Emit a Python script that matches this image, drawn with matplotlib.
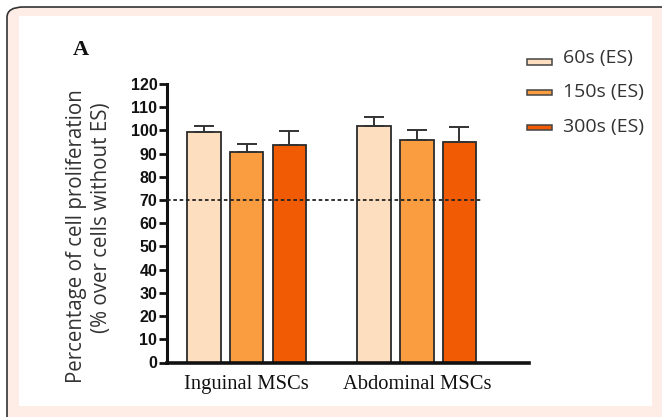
import numpy as np
import matplotlib.pyplot as plt
from matplotlib.patches import FancyBboxPatch, Rectangle

# data
groups = ["Inguinal MSCs", "Abdominal MSCs"]
series = ["60s (ES)", "150s (ES)", "300s (ES)"]
means = [
    [99.2, 101.7],   # 60s
    [90.8, 95.7],    # 150s
    [93.6, 95.0],    # 300s
]
errors = [
    [2.8, 4.1],
    [3.5, 4.3],
    [6.0, 6.3],
]
colors = ["#FDDFC0", "#F99D40", "#F15B04"]
threshold = 70
yticks = list(range(0, 121, 10))

fig = plt.figure(figsize=(6.62, 4.17), dpi=100)
fig.patch.set_facecolor("white")

# pink card with dark rounded border, white panel inside
W, H = 662, 417
card = FancyBboxPatch((7 / W, -0.05), 1.1, 1 - 7 / H + 0.05,
                      boxstyle="round,pad=0,rounding_size=0.025",
                      transform=fig.transFigure, facecolor="#FDEDE6",
                      edgecolor="#333333", linewidth=1.2, zorder=-3)
fig.patches.append(card)
fig.patches.append(Rectangle((19 / W, 1 - 406 / H), (652 - 19) / W, (406 - 16) / H,
                             transform=fig.transFigure, facecolor="white",
                             edgecolor="none", zorder=-2))

ax = fig.add_axes([167 / W, 1 - 362.5 / H, (529 - 167) / W, (362.5 - 84) / H])
ax.set_facecolor("none")

x = np.arange(len(groups))
pitch = 0.251
width = 0.197
for i, (m, e, c) in enumerate(zip(means, errors, colors)):
    pos = x + (i - 1) * pitch
    ax.bar(pos, m, width=width, color=c, edgecolor="#2b2b2b", linewidth=1.3,
           label=series[i], zorder=2)
    ax.errorbar(pos, m, yerr=[np.zeros(len(e)), e], fmt="none", ecolor="#333333",
                elinewidth=1.4, capsize=7.5, capthick=1.4, zorder=3)

ax.plot([-0.469, 1.39], [threshold, threshold], color="#222222", linestyle=(0, (2, 1.5)),
        linewidth=1.3, zorder=4, clip_on=False)

ax.set_xlim(-0.469, 1.66)
ax.set_ylim(0, 120)
ax.set_yticks(yticks)
ax.set_yticklabels([str(t) for t in yticks], fontfamily="Liberation Sans",
                   fontweight="bold", fontsize=11.5, color="#111111")
ax.set_xticks(x)
ax.set_xticklabels(groups, fontfamily="Liberation Serif", fontsize=14.8, color="#111111")
ax.tick_params(axis="x", length=0, pad=9)
ax.tick_params(axis="y", length=6, width=2, color="#111111", pad=1)
for s in ["top", "right"]:
    ax.spines[s].set_visible(False)
ax.spines["left"].set_linewidth(2.2)
ax.spines["bottom"].set_linewidth(2.6)
ax.spines["left"].set_color("#111111")
ax.spines["bottom"].set_color("#111111")

fig.text(77 / W, 1 - 236.5 / H, "Percentage of cell proliferation", rotation=90,
         ha="center", va="center", fontfamily="Open Sans", fontsize=14.8, color="#333333")
fig.text(101 / W, 1 - 218 / H, "(% over cells without ES)", rotation=90,
         ha="center", va="center", fontfamily="Open Sans", fontsize=14.8, color="#333333")

fig.text(73 / W, 1 - 55 / H, "A", fontfamily="Liberation Serif", fontweight="bold",
         fontsize=16, color="#111111")

# legend
patch_y = [61.8, 92.5, 127.5]
text_y = [57.5, 91.7, 127]
for lbl, c, py, ty in zip(series, colors, patch_y, text_y):
    fig.patches.append(Rectangle((527 / W, 1 - (py + 2.8) / H), 25 / W, 5.6 / H,
                                 transform=fig.transFigure, facecolor=c,
                                 edgecolor="#444444", linewidth=1.1))
    fig.text(563 / W, 1 - ty / H, lbl, ha="left", va="center",
             fontfamily="Open Sans", fontsize=14, color="#333333")

fig.savefig("out.png", dpi=100)
